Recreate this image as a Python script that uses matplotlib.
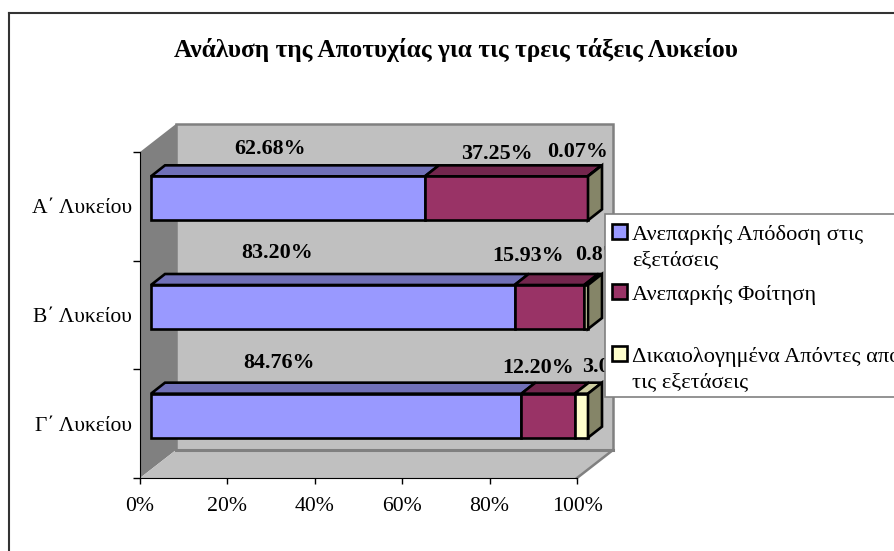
import matplotlib
matplotlib.use('Agg')
import matplotlib.pyplot as plt
import matplotlib.patches as mpatches
import numpy as np

plt.rcParams['font.family'] = ['Liberation Serif', 'DejaVu Serif']

title = "Ανάλυση της Αποτυχίας για τις τρεις τάξεις Λυκείου"
categories = ["Α΄ Λυκείου", "Β΄ Λυκείου", "Γ΄ Λυκείου"]
series_names = ["Ανεπαρκής Απόδοση στις\nεξετάσεις",
                "Ανεπαρκής Φοίτηση",
                "Δικαιολογημένα Απόντες από\nτις εξετάσεις"]
insufficient_exam = [62.68, 83.20, 84.76]
insufficient_attend = [37.25, 15.93, 12.20]
justified_absent = [0.07, 0.87, 3.04]
x_ticks = [0, 20, 40, 60, 80, 100]

front = ["#9999ff", "#993366", "#ffffcc"]
top = ["#7070b8", "#73264d", "#cccca0"]
side = "#858568"

W, H = 894, 551
X0, X100 = 140, 577
Y_TOP, Y_BOT = 152, 478


def fx(px, py):
    return px / W, 1 - py / H


fig = plt.figure(figsize=(W / 100, H / 100), dpi=100)
ax = fig.add_axes([X0 / W, 1 - Y_BOT / H, (X100 - X0) / W, (Y_BOT - Y_TOP) / H])
ax.set_xlim(0, 100)
ax.set_ylim(3, 0)
ax.patch.set_visible(False)

# pixels to data units, for the fake 3d depth
ux = 100 / (X100 - X0)
uy = 3 / (Y_BOT - Y_TOP)
wall_dx, wall_dy = 36 * ux, 28 * uy

# side wall, floor and back wall
ax.add_patch(mpatches.Polygon([(0, 3), (0, 0), (wall_dx, -wall_dy), (wall_dx, 3 - wall_dy)],
                              fc="#808080", ec="none", clip_on=False, zorder=1))
ax.add_patch(mpatches.Rectangle((wall_dx, -wall_dy), 100, 3, fc="#c0c0c0", ec="#808080",
                                lw=1.8, clip_on=False, zorder=1))
ax.add_patch(mpatches.Polygon([(0, 3), (100, 3), (100 + wall_dx, 3 - wall_dy), (wall_dx, 3 - wall_dy)],
                              fc="#c0c0c0", ec="none", clip_on=False, zorder=1.5))
ax.plot([100, 100 + wall_dx], [3, 3 - wall_dy], color="#808080", lw=1.8,
        clip_on=False, zorder=1.6)
ax.plot([wall_dx, 100 + wall_dx], [3 - wall_dy] * 2, color="#808080", lw=2.2,
        clip_on=False, zorder=1.6)

# stacked bars
values = np.array([insufficient_exam, insufficient_attend, justified_absent])
y = np.arange(3) + 0.5
bar_h = 44 * uy
off_x = 11 * ux
off_y = 8 * uy
bar_dx, bar_dy = 14 * ux, 11 * uy
edge_lw = 1.9
lefts = np.zeros(3)
for k in range(3):
    ax.barh(y - off_y, values[k], bar_h, left=lefts + off_x, color=front[k],
            edgecolor="black", linewidth=edge_lw, zorder=3, clip_on=False)
    for i in range(3):
        l = lefts[i] + off_x
        r = l + values[k][i]
        t = y[i] - off_y - bar_h / 2
        ax.add_patch(mpatches.Polygon([(l, t), (r, t), (r + bar_dx, t - bar_dy), (l + bar_dx, t - bar_dy)],
                                      fc=top[k], ec="black", lw=edge_lw, clip_on=False, zorder=2.8))
    lefts += values[k]
for i in range(3):
    r = lefts[i] + off_x
    t = y[i] - off_y - bar_h / 2
    b = t + bar_h
    ax.add_patch(mpatches.Polygon([(r, t), (r + bar_dx, t - bar_dy), (r + bar_dx, b - bar_dy), (r, b)],
                                  fc=side, ec="black", lw=edge_lw, clip_on=False, zorder=3.2))

# axes
ax.set_xticks(x_ticks)
ax.set_xticklabels([f"{v}%" for v in x_ticks], fontsize=15.7)
ax.set_yticks([0, 1, 2, 3])
ax.set_yticklabels([])
ax.set_yticks(y, minor=True)
ax.set_yticklabels(categories, minor=True, fontsize=15.5)
ax.tick_params(axis='x', length=4.5, width=1, pad=9)
ax.tick_params(axis='y', which='major', length=5, width=1)
ax.tick_params(axis='y', which='minor', length=0, pad=6)
for s in ("top", "right"):
    ax.spines[s].set_visible(False)
for s in ("left", "bottom"):
    ax.spines[s].set_zorder(2)

# data labels sit where Excel dropped them, not on the segments
label_px = [[(270, 149), (277, 253), (279, 363)],
            [(497, 154), (528, 256), (538, 368)],
            [(578, 152), (605, 255), (612, 367)]]
for k in range(3):
    for i in range(3):
        px, py = label_px[k][i]
        ax.text(*fx(px, py), f"{values[k][i]:.2f}%", transform=fig.transFigure,
                ha="center", va="center", fontsize=15.8, fontweight="bold", zorder=6)

fig.text(*fx(456, 50), title, ha="center", va="center", fontsize=18.3, fontweight="bold")

# chart frame, cut off by the image on the right and bottom
fig.add_artist(plt.Line2D([8.5 / W, 8.5 / W], [0, 1 - 13 / H], color="#333333", lw=1.5))
fig.add_artist(plt.Line2D([8.5 / W, 1], [1 - 13 / H] * 2, color="#333333", lw=1.5))

# legend box runs off the image as well
lx, ly = fx(605, 397)
fig.add_artist(mpatches.Rectangle((lx, ly), 320 / W, 183 / H, fc="white", ec="#808080", lw=1.2,
                                  transform=fig.transFigure, zorder=10))
handle_y = [224, 284, 346]
text_y = [235, 295, 357]
for k in range(3):
    hx, hy = fx(612, handle_y[k] + 15)
    fig.add_artist(mpatches.Rectangle((hx, hy), 15 / W, 15 / H, fc=front[k], ec="black", lw=1.9,
                                      transform=fig.transFigure, zorder=11))
    for j, line in enumerate(series_names[k].split("\n")):
        tx, ty = fx(632, text_y[k] + 26 * j)
        fig.text(tx, ty, line, ha="left", va="center", fontsize=16.1, zorder=11)

fig.savefig("out.png", dpi=100)
